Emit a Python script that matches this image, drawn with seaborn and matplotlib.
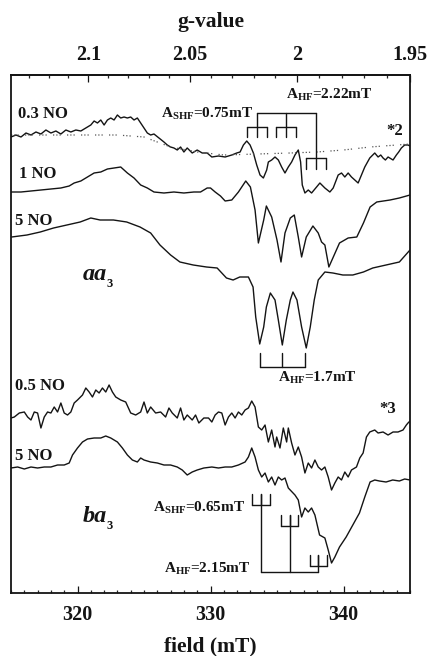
import numpy as np
import matplotlib
matplotlib.use("Agg")
import matplotlib.pyplot as plt
from matplotlib.ticker import MultipleLocator, FixedLocator
import seaborn as sns

# ---------------- spectra (field in mT, signal in arbitrary stacked units) ----------------
aa3_03no_field = [315.0, 315.375, 315.75, 316.125, 316.5, 316.875, 317.25, 317.625, 318.0, 318.375,
                  318.75, 319.125, 319.5, 319.875, 320.25, 320.625, 321.0, 321.25, 321.5, 321.75,
                  322.0, 322.25, 322.5, 322.75, 323.0, 323.25, 323.5, 323.75, 324.0, 324.25,
                  324.5, 324.75, 325.0, 325.25, 325.5, 325.75, 326.125, 326.5, 326.75, 327.0,
                  327.25, 327.5, 327.75, 328.0, 328.25, 328.625, 329.0, 329.375, 329.75, 330.1,
                  330.6, 331.1, 331.6, 331.975, 332.225, 332.475, 332.725, 332.975, 333.225, 333.475,
                  333.725, 333.975, 334.225, 334.35, 334.6, 334.85, 335.1, 335.35, 335.6, 335.85,
                  336.1, 336.35, 336.6, 336.775, 336.9, 337.1, 337.35, 337.6, 337.975, 338.225,
                  338.6, 338.975, 339.225, 339.6, 339.85, 340.1, 340.35, 340.6, 340.85, 341.1,
                  341.35, 341.6, 341.975, 342.35, 342.6, 342.8, 342.975, 343.15, 343.35, 343.725,
                  343.975, 344.15, 344.35, 344.6, 344.85, 345.0]
aa3_03no_val = [456, 458, 456, 460, 458, 461, 459, 463, 460, 462,
                459, 463, 461, 463, 462, 465, 468, 472, 470, 473,
                468, 473, 475, 473, 478, 475, 476, 475, 476, 473,
                475, 470, 465, 460, 458, 459, 455, 451, 448, 446,
                445, 443, 446, 441, 445, 440, 443, 440, 440, 436,
                437, 436, 438, 440, 441, 448, 452, 448, 440, 428,
                418, 415, 423, 431, 433, 436, 433, 426, 420, 426,
                431, 438, 443, 431, 408, 400, 403, 400, 406, 410,
                405, 401, 405, 418, 420, 416, 420, 416, 413, 410,
                418, 426, 435, 440, 436, 438, 435, 433, 436, 433,
                438, 441, 445, 448, 448, 447]

baseline_03no_field = [315.0, 320.0, 323.0, 325.0, 327.0, 329.0, 331.0, 333.5, 336.0, 338.0, 340.0, 342.0, 345.0]
baseline_03no_val = [458, 458, 458, 456, 446, 441, 438, 439, 440, 441, 443, 446, 449]

aa3_1no_field = [315.0, 315.75, 316.5, 317.25, 318.0, 318.75, 319.375, 319.75, 320.25, 320.75,
                 321.25, 321.75, 322.25, 322.75, 323.25, 323.75, 324.25, 324.75, 325.25, 325.75,
                 326.5, 327.25, 328.0, 328.75, 329.25, 329.75, 330.0, 330.35, 330.75, 331.1,
                 331.6, 332.1, 332.65, 333.0, 333.35, 333.6, 334.0, 334.2, 334.6, 335.0,
                 335.3, 335.6, 336.0, 336.3, 336.6, 336.85, 337.2, 337.7, 338.1, 338.35,
                 338.6, 338.9, 339.2, 339.7, 340.35, 341.0, 341.5, 342.0, 342.5, 343.0,
                 343.5, 344.2, 345.0]
aa3_1no_val = [401, 401, 402, 403, 404, 405, 407, 410, 412, 416,
               420, 421, 424, 425, 426, 420, 415, 408, 405, 401,
               400, 401, 400, 401, 401, 405, 405, 401, 397, 392,
               393, 401, 412, 406, 383, 350, 373, 387, 376, 353,
               331, 360, 375, 378, 356, 336, 356, 367, 360, 351,
               348, 326, 335, 350, 355, 356, 370, 386, 391, 392,
               393, 395, 398]

aa3_5no_field = [315.05, 316.2, 317.2, 318.2, 319.2, 320.2, 321.0, 321.7, 322.7, 323.7,
                 324.7, 325.5, 326.2, 327.0, 327.7, 328.7, 329.7, 330.5, 331.2, 331.7,
                 332.2, 332.85, 333.2, 333.4, 333.7, 334.0, 334.2, 334.5, 334.85, 335.1,
                 335.4, 335.7, 336.0, 336.2, 336.5, 336.85, 337.2, 337.5, 337.8, 338.1,
                 338.6, 339.2, 339.95, 340.7, 341.5, 342.2, 343.2, 344.2, 345.0]
aa3_5no_val = [356, 358, 361, 365, 368, 371, 375, 373, 373, 371,
               366, 360, 348, 338, 331, 328, 326, 325, 315, 313,
               316, 316, 306, 276, 249, 266, 286, 300, 293, 273,
               248, 273, 293, 301, 293, 266, 245, 266, 293, 313,
               321, 320, 318, 318, 321, 325, 328, 331, 343]

ba3_05no_field = [315.0, 315.25, 315.625, 316.0, 316.25, 316.5, 316.75, 317.0, 317.25, 317.5,
                  317.75, 318.0, 318.25, 318.5, 318.75, 319.0, 319.25, 319.5, 319.75, 320.0,
                  320.375, 320.625, 320.875, 321.125, 321.375, 321.625, 321.875, 322.125, 322.375, 322.625,
                  322.875, 323.25, 323.625, 324.0, 324.375, 324.75, 325.0, 325.25, 325.5, 325.875,
                  326.25, 326.625, 326.875, 327.125, 327.5, 327.75, 328.0, 328.25, 328.625, 328.875,
                  329.125, 329.5, 329.85, 330.1, 330.35, 330.6, 330.85, 331.1, 331.35, 331.6,
                  331.85, 332.1, 332.35, 332.6, 332.85, 333.1, 333.35, 333.6, 333.85, 334.1,
                  334.35, 334.6, 334.85, 334.975, 335.225, 335.475, 335.725, 335.85, 336.1, 336.35,
                  336.6, 336.85, 337.1, 337.35, 337.6, 337.85, 338.1, 338.35, 338.6, 338.85,
                  339.1, 339.35, 339.6, 339.85, 340.1, 340.35, 340.6, 340.975, 341.225, 341.475,
                  341.725, 341.975, 342.35, 342.6, 342.975, 343.35, 343.725, 344.1, 344.475, 344.725,
                  344.85, 345.0]
ba3_05no_val = [175, 176, 180, 181, 176, 173, 181, 180, 165, 176,
                181, 180, 186, 181, 190, 180, 178, 181, 190, 193,
                198, 205, 201, 196, 203, 200, 205, 201, 208, 201,
                196, 193, 191, 180, 178, 181, 191, 180, 186, 180,
                181, 176, 185, 180, 175, 185, 173, 178, 173, 178,
                170, 175, 175, 171, 178, 181, 180, 168, 176, 180,
                175, 181, 178, 183, 185, 192, 186, 166, 163, 168,
                151, 163, 146, 156, 145, 165, 151, 165, 150, 138,
                146, 136, 120, 130, 125, 133, 126, 123, 126, 116,
                103, 110, 116, 113, 121, 116, 123, 126, 135, 140,
                156, 161, 163, 160, 161, 158, 161, 161, 163, 168,
                170, 172]

ba3_5no_field = [315.0, 315.5, 316.0, 316.5, 317.0, 317.5, 318.0, 318.5, 319.0, 319.375,
                 319.625, 320.0, 320.375, 320.75, 321.25, 321.75, 322.125, 322.5, 323.0, 323.375,
                 323.75, 324.125, 324.5, 324.75, 325.0, 325.5, 326.0, 326.5, 327.0, 327.5,
                 327.875, 328.25, 328.625, 329.0, 329.5, 330.1, 330.6, 331.1, 331.6, 332.1,
                 332.6, 332.85, 333.1, 333.35, 333.6, 333.85, 334.1, 334.35, 334.6, 334.85,
                 335.1, 335.35, 335.6, 335.85, 336.35, 336.6, 336.85, 337.1, 337.35, 337.6,
                 337.85, 338.2, 338.6, 338.85, 339.1, 339.35, 339.7, 340.2, 340.7, 341.2,
                 341.6, 342.0, 342.35, 342.7, 343.2, 343.7, 344.2, 344.6, 345.0]
ba3_5no_val = [125, 126, 124, 126, 125, 126, 126, 128, 128, 130,
               138, 145, 151, 154, 155, 155, 157, 155, 151, 145,
               138, 133, 131, 135, 133, 131, 130, 128, 128, 126,
               123, 118, 121, 123, 125, 126, 125, 126, 126, 128,
               131, 136, 145, 136, 123, 116, 120, 111, 116, 108,
               116, 113, 115, 105, 98, 93, 76, 85, 81, 85,
               78, 58, 55, 43, 30, 36, 46, 56, 68, 80,
               96, 111, 113, 112, 111, 113, 112, 114, 113]

# ---------------- hyperfine splittings (mT) ----------------
aa3_a_hf, aa3_a_shf = 2.22, 0.75
aa3_5no_a_hf = 1.7
ba3_a_hf, ba3_a_shf = 2.15, 0.65

g_ticks = [2.1, 2.05, 2.0, 1.95]
g_tick_labels = ["2.1", "2.05", "2", "1.95"]
field_ticks = [320, 330, 340]
# field calibration of the g scale: g = G_SCALE / (B - B_OFFSET)
G_SCALE, B_OFFSET = 659.8, 6.62

# ---------------- style ----------------
sns.set_theme(style="white")
plt.rcParams["font.family"] = ["Liberation Serif", "DejaVu Serif"]
plt.rcParams["font.weight"] = "bold"
plt.rcParams["mathtext.fontset"] = "custom"
plt.rcParams["mathtext.rm"] = "Liberation Serif:bold"
plt.rcParams["mathtext.bf"] = "Liberation Serif:bold"
plt.rcParams["mathtext.it"] = "Liberation Serif:bold:italic"

INK = "#141414"
LW = 1.0
fig = plt.figure(figsize=(4.29, 6.56), dpi=100)
ax = fig.add_axes([11 / 429, 1 - 593 / 656, 399 / 429, 518 / 656])

traces = [
    (aa3_03no_field, aa3_03no_val),
    (aa3_1no_field, aa3_1no_val),
    (aa3_5no_field, aa3_5no_val),
    (ba3_05no_field, ba3_05no_val),
    (ba3_5no_field, ba3_5no_val),
]
for fx, fy in traces:
    sns.lineplot(x=fx, y=fy, ax=ax, color=INK, linewidth=LW, estimator=None, sort=False)

sns.lineplot(x=baseline_03no_field, y=baseline_03no_val, ax=ax, color="#555555", linewidth=0.9,
             estimator=None, sort=False, linestyle=(0, (1, 1.6, 1, 1.6, 1, 5)))

# ---------------- splitting brackets ----------------
def hang_triplet(center, spacing, bar, depth):
    ax.plot([center - spacing, center + spacing], [bar, bar], color=INK, lw=LW)
    for k in (-1, 0, 1):
        x = center + k * spacing
        ax.plot([x, x], [bar, bar + depth], color=INK, lw=LW)

# aa3, 0.3 NO: three triplets hung from one bar
c0 = 333.475
top_bar = 479.7
levels = [466.5, 466.5, 435.0]
centers = [c0 + k * aa3_a_hf for k in range(3)]
ax.plot([centers[0], centers[-1]], [top_bar, top_bar], color=INK, lw=LW)
for c, lv in zip(centers, levels):
    ax.plot([c, c], [top_bar, lv], color=INK, lw=LW)
    hang_triplet(c, aa3_a_shf, lv, -10.5)

# aa3, 5 NO: three lines
c_5 = [333.7 + k * aa3_5no_a_hf for k in range(3)]
ax.plot([c_5[0], c_5[-1]], [226.3, 226.3], color=INK, lw=LW)
for c in c_5:
    ax.plot([c, c], [226.3, 239.7], color=INK, lw=LW)

# ba3: triplets standing on stems from a bottom bar
cb = [333.8 + k * ba3_a_hf for k in range(3)]
b_levels = [88.0, 67.0, 27.3]
low_bar = 21.3
ax.plot([cb[0], cb[-1]], [low_bar, low_bar], color=INK, lw=LW)
for c, lv in zip(cb, b_levels):
    ax.plot([c, c], [low_bar, lv + 11], color=INK, lw=LW)
    hang_triplet(c, ba3_a_shf, lv, 11)

# ---------------- text ----------------
lab = dict(color=INK, fontsize=12, fontweight="bold")
ax.text(315.5, 475, "0.3 NO", ha="left", va="baseline", **lab)
ax.text(315.6, 415, "1 NO", ha="left", va="baseline", **lab)
ax.text(315.3, 368, "5 NO", ha="left", va="baseline", **lab)
ax.text(315.3, 203, "0.5 NO", ha="left", va="baseline", **lab)
ax.text(315.3, 133, "5 NO", ha="left", va="baseline", **lab)

ax.text(320.4, 313, "aa", fontsize=17.5, fontstyle="italic", fontweight="bold", color=INK,
        ha="left", va="baseline")
ax.text(322.2, 306, "3", fontsize=9, fontweight="bold", color=INK, ha="left", va="baseline")
ax.text(320.4, 71, "ba", fontsize=17.5, fontstyle="italic", fontweight="bold", color=INK,
        ha="left", va="baseline")
ax.text(322.2, 64, "3", fontsize=9, fontweight="bold", color=INK, ha="left", va="baseline")

ann = dict(color=INK, fontsize=11, fontweight="bold", va="baseline")
ax.text(333.25, 475, r"A$_{\rm SHF}$" + f"={aa3_a_shf:.2f}mT", ha="right", **ann)
ax.text(335.7, 493.7, r"A$_{\rm HF}$" + f"={aa3_a_hf:.2f}mT", ha="left", **ann)
ax.text(335.1, 211.3, r"A$_{\rm HF}$" + f"={aa3_5no_a_hf:.1f}mT", ha="left", **ann)
ax.text(332.6, 81.3, r"A$_{\rm SHF}$" + f"={ba3_a_shf:.2f}mT", ha="right", **ann)
ax.text(333.0, 20.3, r"A$_{\rm HF}$" + f"={ba3_a_hf:.2f}mT", ha="right", **ann)

ax.text(343.2, 458, "*2", ha="left", va="baseline", **lab)
ax.text(342.7, 180, "*3", ha="left", va="baseline", **lab)

# ---------------- axes ----------------
ax.set_xlim(315, 345)
ax.set_ylim(0, 518)
ax.set_yticks([])
ax.set_xticks(field_ticks)
ax.xaxis.set_minor_locator(MultipleLocator(1))
ax.tick_params(axis="x", which="major", direction="in", length=5, width=0.9, pad=8.5,
               labelsize=14.5, colors=INK, top=False, bottom=True)
ax.tick_params(axis="x", which="minor", direction="in", length=2.5, width=0.9, top=False, bottom=True)
for lbl in ax.get_xticklabels():
    lbl.set_fontweight("bold")
for sp in ax.spines.values():
    sp.set_visible(True)
    sp.set_linewidth(1.3)
    sp.set_color(INK)


def field_to_g(b):
    b = np.asarray(b, dtype=float)
    with np.errstate(divide="ignore", invalid="ignore"):
        return G_SCALE / (b - B_OFFSET)


def g_to_field(g):
    g = np.asarray(g, dtype=float)
    with np.errstate(divide="ignore", invalid="ignore"):
        return G_SCALE / g + B_OFFSET


secax = ax.secondary_xaxis("top", functions=(field_to_g, g_to_field))
secax.set_xticks(g_ticks)
secax.set_xticklabels(g_tick_labels, fontweight="bold")
secax.xaxis.set_minor_locator(FixedLocator(np.round(np.arange(1.95, 2.135, 0.01), 2)))
secax.tick_params(axis="x", which="major", direction="in", length=5, width=0.9, pad=7,
                  labelsize=14.5, colors=INK)
secax.tick_params(axis="x", which="minor", direction="in", length=2.5, width=0.9)
secax.spines["top"].set_linewidth(1.3)

fig.text(210.5 / 429, 1 - 22.5 / 656, "g-value", ha="center", va="center", fontsize=15.5,
         fontweight="bold", color=INK)
fig.text(210.5 / 429, 1 - 646.5 / 656, "field (mT)", ha="center", va="center", fontsize=15.5,
         fontweight="bold", color=INK)

fig.savefig("out.png", dpi=100)
